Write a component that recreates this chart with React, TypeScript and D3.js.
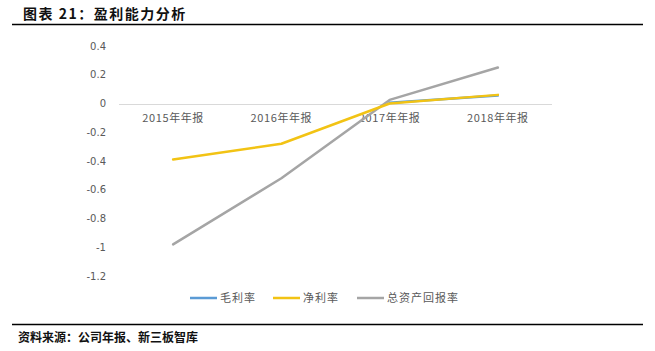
import { useEffect, useRef } from 'react';
import * as d3 from 'd3';

const categories = ['2015年年报', '2016年年报', '2017年年报', '2018年年报'];
const grossMargin: (number | null)[] = [null, null, 0.005, 0.055];
const netMargin: (number | null)[] = [-0.39, -0.28, 0.0, 0.06];
const roa: (number | null)[] = [-0.98, -0.52, 0.025, 0.25];
const yTicks = [0.4, 0.2, 0, -0.2, -0.4, -0.6, -0.8, -1, -1.2];

const seriesNames = ['毛利率', '净利率', '总资产回报率'];
const seriesColors = ['#5B9BD5', '#F2C314', '#A5A5A5'];

export default function App() {
  const ref = useRef<SVGSVGElement | null>(null);

  useEffect(() => {
    if (!ref.current) return;
    const W = 655;
    const H = 351;
    const svg = d3.select(ref.current);
    svg.selectAll('*').remove();
    svg.attr('width', W).attr('height', H);

    svg.append('rect').attr('width', W).attr('height', H).attr('fill', '#fff');

    // titulo
    svg.append('text')
      .attr('x', 23)
      .attr('y', 19)
      .attr('font-family', '"Noto Sans CJK SC", sans-serif')
      .attr('font-weight', 'bold')
      .attr('font-size', 14)
      .attr('letter-spacing', 1.5)
      .attr('fill', '#111')
      .text('图表 21：盈利能力分析');
    svg.append('line')
      .attr('x1', 12).attr('x2', 643).attr('y1', 24.5).attr('y2', 24.5)
      .attr('stroke', '#000').attr('stroke-width', 1.3);

    // pie de fuente
    svg.append('line')
      .attr('x1', 12).attr('x2', 643).attr('y1', 324.5).attr('y2', 324.5)
      .attr('stroke', '#000').attr('stroke-width', 1.3);
    svg.append('text')
      .attr('x', 18)
      .attr('y', 342)
      .attr('font-family', '"Noto Sans CJK SC", sans-serif')
      .attr('font-weight', 'bold')
      .attr('font-size', 12)
      .attr('fill', '#111')
      .text('资料来源：公司年报、新三板智库');

    const x = d3.scaleBand().domain(categories).range([119, 552]);
    const y = d3.scaleLinear().domain([-1.2, 0.4]).range([276, 46]);

    // eje Y
    svg.append('g')
      .selectAll('text')
      .data(yTicks)
      .enter()
      .append('text')
      .attr('x', 106)
      .attr('y', (d) => y(d))
      .attr('dy', '0.35em')
      .attr('text-anchor', 'end')
      .attr('font-family', '"DejaVu Sans", sans-serif')
      .attr('font-size', 10)
      .attr('fill', '#595959')
      .text((d) => String(d));

    // linea de cero
    svg.append('line')
      .attr('x1', 119).attr('x2', 552)
      .attr('y1', Math.round(y(0)) + 0.5).attr('y2', Math.round(y(0)) + 0.5)
      .attr('stroke', '#D9D9D9').attr('stroke-width', 1);

    // etiquetas X
    svg.append('g')
      .selectAll('text')
      .data(categories)
      .enter()
      .append('text')
      .attr('x', (d) => x(d)! + x.bandwidth() / 2)
      .attr('y', y(0) + 18)
      .attr('text-anchor', 'middle')
      .attr('font-family', '"Noto Sans CJK SC", sans-serif')
      .attr('font-size', 11)
      .attr('letter-spacing', 0.6)
      .attr('fill', '#595959')
      .text((d) => d);

    const cx = (i: number) => x(categories[i])! + x.bandwidth() / 2;
    const line = d3.line<number | null>()
      .defined((d) => d !== null)
      .x((_, i) => cx(i))
      .y((d) => y(d as number));

    [roa, grossMargin, netMargin].forEach((s) => {
      const idx = s === grossMargin ? 0 : s === netMargin ? 1 : 2;
      svg.append('path')
        .datum(s)
        .attr('fill', 'none')
        .attr('stroke', seriesColors[idx])
        .attr('stroke-width', 2.5)
        .attr('stroke-linejoin', 'round')
        .attr('stroke-linecap', 'round')
        .attr('d', line);
    });

    // leyenda
    const legendX = [190, 273, 357];
    seriesNames.forEach((name, i) => {
      svg.append('line')
        .attr('x1', legendX[i]).attr('x2', legendX[i] + 27)
        .attr('y1', 298).attr('y2', 298)
        .attr('stroke', seriesColors[i]).attr('stroke-width', 2.5);
      svg.append('text')
        .attr('x', legendX[i] + 30)
        .attr('y', 298)
        .attr('dy', '0.35em')
        .attr('font-family', '"Noto Sans CJK SC", sans-serif')
        .attr('font-size', 11)
        .attr('letter-spacing', 1)
        .attr('fill', '#595959')
        .text(name);
    });
  }, []);

  return <svg ref={ref} style={{ position: 'absolute', left: 0, top: 0, display: 'block' }} />;
}
